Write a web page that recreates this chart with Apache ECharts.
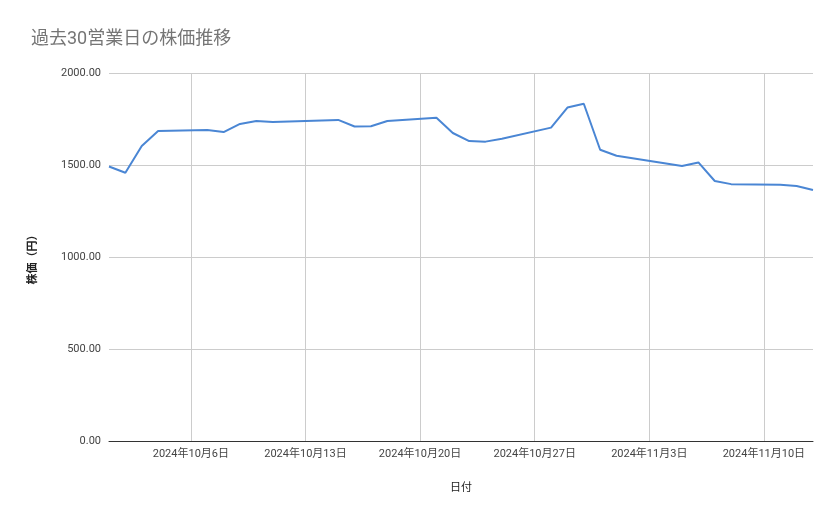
<!DOCTYPE html>
<html><head><meta charset="utf-8">
<script src="https://cdn.jsdelivr.net/npm/echarts@6/dist/echarts.min.js"></script>
<style>html,body{margin:0;background:#fff}#c{width:839px;height:519px}</style>
</head><body><div id="c"></div>
<script>
const dates = ['2024-10-01','2024-10-02','2024-10-03','2024-10-04','2024-10-07','2024-10-08','2024-10-09','2024-10-10','2024-10-11','2024-10-15','2024-10-16','2024-10-17','2024-10-18','2024-10-21','2024-10-22','2024-10-23','2024-10-24','2024-10-25','2024-10-28','2024-10-29','2024-10-30','2024-10-31','2024-11-01','2024-11-05','2024-11-06','2024-11-07','2024-11-08','2024-11-11','2024-11-12','2024-11-13']
const prices = [1492,1458,1603,1685,1690,1679,1723,1739,1734,1745,1709,1711,1739,1757,1674,1630,1627,1643,1703,1812,1833,1583,1550,1495,1514,1413,1396,1392,1386,1364]
const tickDates = ['2024-10-06','2024-10-13','2024-10-20','2024-10-27','2024-11-03','2024-11-10']

const DAY = 86400000
const base = Date.UTC(2024, 9, 1)
const dayNo = d => Math.round((Date.UTC(+d.slice(0, 4), +d.slice(5, 7) - 1, +d.slice(8, 10)) - base) / DAY)
const tickDays = tickDates.map(dayNo)
const chart = echarts.init(document.getElementById('c'))
chart.setOption({
  animation: false,
  textStyle: { fontFamily: 'Roboto, "Noto Sans CJK JP", sans-serif' },
  title: { text: '過去30営業日の株価推移', left: 26, top: 26, textStyle: { fontSize: 18, color: '#757575', fontWeight: 'normal' } },
  grid: { left: 109, right: 26, top: 73, bottom: 78 },
  xAxis: {
    type: 'value', min: 0, max: dayNo('2024-11-13'),
    name: '日付', nameLocation: 'middle', nameGap: 42, nameTextStyle: { fontSize: 11, color: '#222' },
    axisLine: { lineStyle: { color: '#333' } },
    axisTick: { show: false, customValues: tickDays },
    axisLabel: { customValues: tickDays, color: '#444', fontSize: 11, formatter: v => { const d = new Date(base + v * DAY); return d.getUTCFullYear() + '年' + (d.getUTCMonth() + 1) + '月' + d.getUTCDate() + '日' } },
    splitLine: { show: true, lineStyle: { color: '#ccc' } }
  },
  yAxis: {
    type: 'value', min: 0, max: 2000, interval: 500,
    name: '株価（円）', nameLocation: 'middle', nameGap: 70, nameTextStyle: { fontSize: 11, color: '#222', fontWeight: 'bold' },
    axisLine: { show: false }, axisTick: { show: false },
    axisLabel: { color: '#444', fontSize: 11, formatter: v => v.toFixed(2) },
    splitLine: { lineStyle: { color: '#ccc' } }
  },
  series: [{
    type: 'line', data: dates.map((d, i) => [dayNo(d), prices[i]]),
    showSymbol: false, lineStyle: { color: '#4a86d4', width: 2 }
  }]
})
</script></body></html>
